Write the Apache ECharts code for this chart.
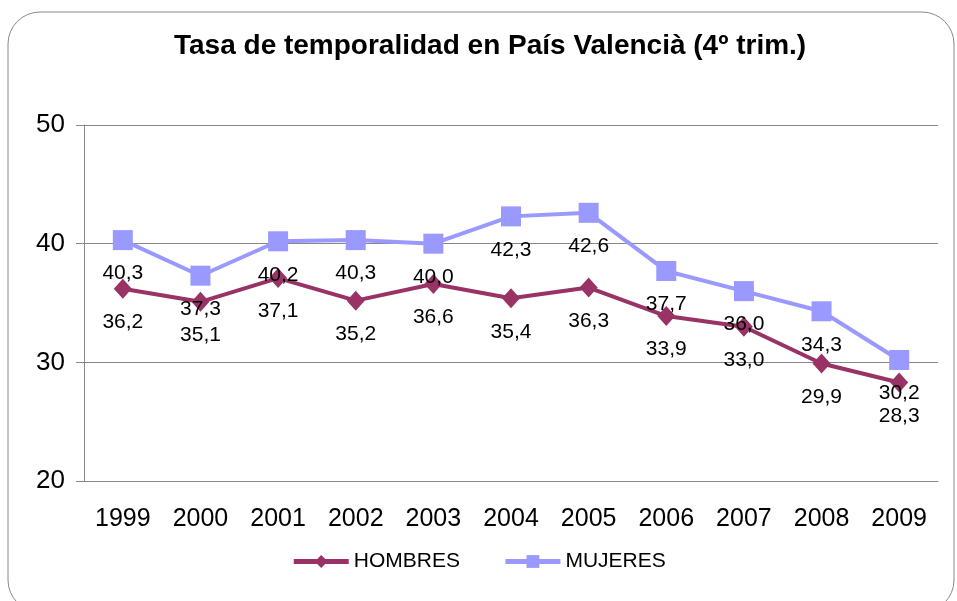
<!DOCTYPE html>
<html>
<head>
<meta charset="utf-8">
<script src="https://cdn.jsdelivr.net/npm/echarts@6/dist/echarts.min.js"></script>
<style>
  html, body { margin: 0; padding: 0; background: #fff; }
  #chart { width: 957px; height: 601px; }
</style>
</head>
<body>
<div id="chart"></div>
<script>
// datos
const years = ['1999', '2000', '2001', '2002', '2003', '2004', '2005', '2006', '2007', '2008', '2009'];
const hombres = [36.2, 35.1, 37.1, 35.2, 36.6, 35.4, 36.3, 33.9, 33.0, 29.9, 28.3];
const mujeres = [40.3, 37.3, 40.2, 40.3, 40.0, 42.3, 42.6, 37.7, 36.0, 34.3, 30.2];

const font = '"Liberation Sans", Arial, sans-serif';

function fmt(p) {
    return p.value.toFixed(1).replace('.', ',');
}

const chart = echarts.init(document.getElementById('chart'));
chart.setOption({
    backgroundColor: '#fff',
    animation: false,
    textStyle: { fontFamily: font },
    title: {
        text: 'Tasa de temporalidad en País Valencià (4º trim.)',
        left: 169,
        top: 27,
        textStyle: { fontSize: 28, fontWeight: 'bold', color: '#000', fontFamily: font }
    },
    graphic: [{
        type: 'rect',
        shape: { x: 8, y: 12, width: 946, height: 600, r: 32 },
        style: { fill: 'none', stroke: '#888', lineWidth: 1 },
        silent: true
    }],
    legend: {
        top: 546,
        left: 'center',
        itemWidth: 55,
        itemHeight: 16,
        itemGap: 43,
        lineStyle: { width: 5 },
        textStyle: { fontSize: 21, color: '#000', fontFamily: font },
        data: ['HOMBRES', 'MUJERES']
    },
    grid: { left: 84, right: 19, top: 125, bottom: 120 },
    xAxis: {
        type: 'category',
        data: years,
        boundaryGap: true,
        axisLine: { lineStyle: { color: '#888' } },
        axisTick: { length: 8, lineStyle: { color: '#888' } },
        axisLabel: { fontSize: 25, color: '#000', margin: 26 }
    },
    yAxis: {
        type: 'value',
        min: 20,
        max: 50,
        interval: 10,
        axisLine: { show: true, lineStyle: { color: '#888' } },
        axisTick: { show: true, length: 8, lineStyle: { color: '#888' } },
        axisLabel: { fontSize: 26, color: '#000', margin: 19 },
        splitLine: { lineStyle: { color: '#888' } }
    },
    series: [{
        name: 'HOMBRES',
        type: 'line',
        data: hombres,
        color: '#993366',
        symbol: 'diamond',
        symbolSize: [18, 20],
        lineStyle: { width: 4 },
        label: {
            show: true,
            position: 'bottom',
            distance: 13,
            fontSize: 21,
            color: '#000',
            formatter: fmt
        }
    }, {
        name: 'MUJERES',
        type: 'line',
        data: mujeres,
        color: '#9999FF',
        symbol: 'rect',
        symbolSize: 20,
        lineStyle: { width: 4 },
        label: {
            show: true,
            position: 'bottom',
            distance: 13,
            fontSize: 21,
            color: '#000',
            formatter: fmt
        }
    }]
});
</script>
</body>
</html>
